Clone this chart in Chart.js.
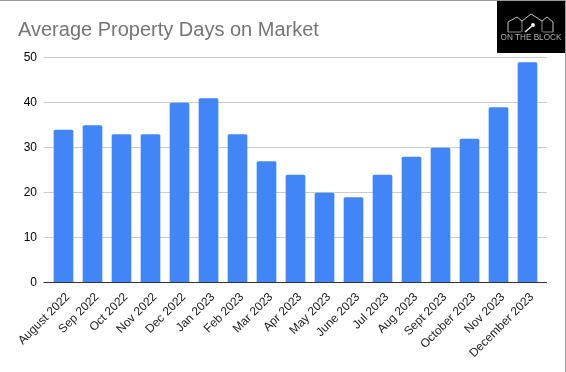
<!DOCTYPE html>
<html>
<head>
<meta charset="utf-8">
<title>Average Property Days on Market</title>
<script src="https://cdn.jsdelivr.net/npm/chart.js@4"></script>
<style>
  html, body { margin: 0; padding: 0; background: #fff; overflow: hidden; }
  #wrap { position: relative; width: 566px; height: 372px; }
  canvas { position: absolute; left: 0; top: 0; }
  #edgeTop { position: absolute; left: 0; top: 0; width: 566px; height: 1px; background: #9a9a9a; }
  #edgeRight { position: absolute; right: 0; top: 0; width: 1px; height: 372px; background: #9a9a9a; }
  #logo { position: absolute; left: 497px; top: 1px; width: 68px; height: 52px; background: #000; }
  #logo svg { position: absolute; left: 0; top: 0; }
  #logo span { position: absolute; left: 0; width: 68px; top: 32px; text-align: center; color: #b0b0b0;
    font: 8.2px "Liberation Sans", Arial, sans-serif; white-space: nowrap; will-change: transform; }
</style>
</head>
<body>
<div id="wrap">
  <canvas id="chart" width="566" height="372"></canvas>
  <div id="edgeTop"></div>
  <div id="edgeRight"></div>
  <div id="logo">
    <svg width="68" height="52" viewBox="0 0 68 52" fill="none" stroke="#c8c8c8" stroke-width="1">
      <path d="M11 31V21L20 16L25 20M25 20L34 13L45 20M45 20L50 16L56 21V31"/>
      <path d="M25 20V31M45 20V31M11 31H24M46 31H56" stroke="#888"/>
      <path d="M28 31L35 25" stroke="#eee" stroke-width="1.5"/>
      <circle cx="36" cy="24" r="2" fill="#eee" stroke="none"/>
    </svg>
    <span>ON THE BLOCK</span>
  </div>
</div>
<script>
// data
const labels = ['August 2022', 'Sep 2022', 'Oct 2022', 'Nov 2022', 'Dec 2022', 'Jan 2023', 'Feb 2023',
  'Mar 2023', 'Apr 2023', 'May 2023', 'June 2023', 'Jul 2023', 'Aug 2023', 'Sept 2023',
  'October 2023', 'Nov 2023', 'December 2023'];
const days = [34, 35, 33, 33, 40, 41, 33, 27, 24, 20, 19, 24, 28, 30, 32, 39, 49];
const yTicks = [0, 10, 20, 30, 40, 50];

const FONT = '"Liberation Sans", Arial, sans-serif';

function gridLine(chart, value, colour) {
  const {ctx, chartArea, scales: {y}} = chart;
  const py = Math.round(y.getPixelForValue(value)) - 0.5;
  ctx.save();
  ctx.lineWidth = 1;
  ctx.strokeStyle = colour;
  ctx.beginPath();
  ctx.moveTo(chartArea.left - 5.5, py);
  ctx.lineTo(chartArea.right + 5, py);
  ctx.stroke();
  ctx.restore();
}

// grid lines run a little past the bars on both sides, baseline sits on top of the bars
const gridPlugin = {
  id: 'sheetGrid',
  beforeDatasetsDraw(chart) {
    yTicks.filter((t) => t !== 0).forEach((t) => gridLine(chart, t, '#cccccc'));
  },
  afterDatasetsDraw(chart) {
    gridLine(chart, 0, '#333333');
  }
};

new Chart(document.getElementById('chart'), {
  type: 'bar',
  data: {
    labels: labels,
    datasets: [{
      data: days,
      backgroundColor: '#4285f4',
      barThickness: 19,
      borderRadius: {topLeft: 1.5, topRight: 1.5, bottomLeft: 0, bottomRight: 0},
      borderSkipped: false
    }]
  },
  options: {
    responsive: false,
    animation: false,
    layout: {padding: {left: 18, right: 24, top: 0, bottom: 0}},
    plugins: {
      legend: {display: false},
      tooltip: {enabled: false},
      title: {
        display: true,
        text: 'Average Property Days on Market',
        align: 'start',
        color: '#757575',
        font: {family: FONT, size: 20, weight: 'normal'},
        padding: {top: 18, bottom: 16}
      }
    },
    scales: {
      x: {
        grid: {display: false, drawTicks: false},
        border: {display: false},
        afterFit(scale) { scale.height = 89; },
        ticks: {
          autoSkip: false,
          minRotation: 45,
          maxRotation: 45,
          padding: 7,
          labelOffset: 4.5,
          color: '#222222',
          font: {family: FONT, size: 12}
        }
      },
      y: {
        min: 0,
        max: 50,
        grid: {display: false, drawTicks: false},
        border: {display: false},
        afterFit(scale) { scale.width = 31; },
        ticks: {
          stepSize: 10,
          padding: 12,
          color: '#000000',
          font: {family: FONT, size: 12}
        }
      }
    }
  },
  plugins: [gridPlugin]
});
</script>
</body>
</html>
